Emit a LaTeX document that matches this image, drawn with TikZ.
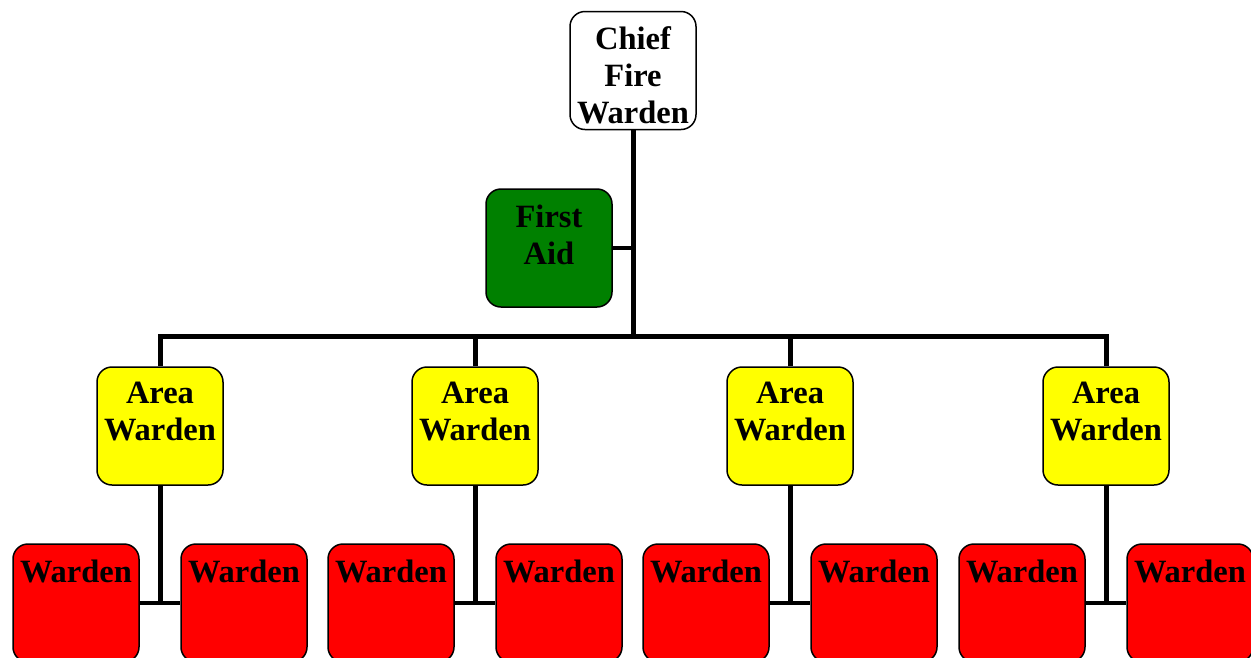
\documentclass[tikz,border=0pt]{standalone}
\usepackage{fontspec}
\setmainfont{Liberation Serif}
\usetikzlibrary{backgrounds}
\definecolor{wgreen}{HTML}{008000}
\definecolor{wyellow}{HTML}{FFFF00}
\definecolor{wred}{HTML}{FF0000}
\begin{document}
\begin{tikzpicture}[x=1pt,y=-1pt,
  box/.style={draw=black,line width=1.5pt,rounded corners=15pt,minimum width=126pt,minimum height=118pt,inner sep=0pt},
  txt/.style={anchor=north,inner sep=0pt,align=center,font=\fontsize{32.5}{37}\selectfont\bfseries,yshift=-16pt},
  link/.style={line width=5pt,draw=black},
  thin link/.style={line width=4pt,draw=black}]
\clip (0,0) rectangle (1251,657);
\useasboundingbox (0,0) rectangle (1251,657);
% top
\node[box,fill=white] (chief) at (633,70.5) {};
\node[txt] (chief-t) at (chief.north) {Chief\\Fire\\Warden};
\node[box,fill=wgreen] (fa) at (549,248) {};
\node[txt] (fa-t) at (fa.north) {First\\Aid};
\coordinate (bus) at (633,336);
% area wardens
\foreach \i/\x in {1/160,2/475,3/790,4/1106}{
  \node[box,fill=wyellow] (a\i) at (\x,426) {};
  \node[txt] (a\i-t) at (a\i.north) {Area\\Warden};
  \node[box,fill=wred] (w\i a) at (\x-84,603) {};
  \node[txt] (w\i a-t) at (w\i a.north) {Warden};
  \node[box,fill=wred] (w\i b) at (\x+84,603) {};
  \node[txt] (w\i b-t) at (w\i b.north) {Warden};
  \coordinate (j\i) at (\x,603);
}
\begin{pgfonlayer}{background}
  \draw[link] (chief.south) -- (bus);
  \draw[thin link] (fa.east) -- (fa.east -| bus);
  \draw[link,line cap=rect] (a1.north |- bus) -- (a4.north |- bus);
  \foreach \i in {1,2,3,4}{
    \draw[link] (a\i.north) -- (a\i.north |- bus);
    \draw[link] (a\i.south) -- (j\i);
    \draw[thin link] (w\i a.east) -- (w\i b.west);
  }
\end{pgfonlayer}
\end{tikzpicture}
\end{document}
